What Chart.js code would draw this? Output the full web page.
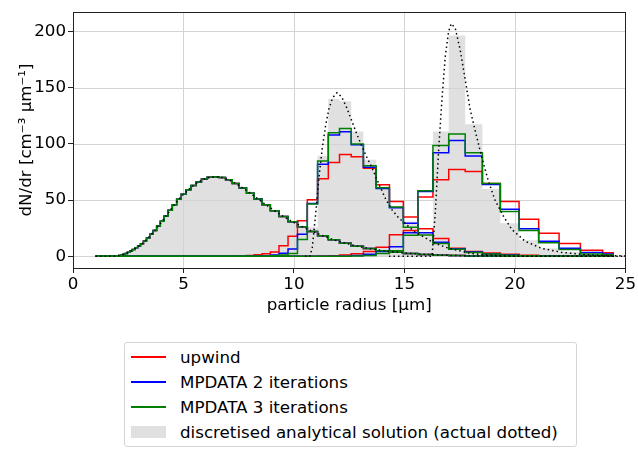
<!DOCTYPE html>
<html>
<head>
<meta charset="utf-8">
<script src="https://cdn.jsdelivr.net/npm/chart.js@4/dist/chart.umd.min.js"></script>
<style>
  body { margin: 0; background: #fff; }
  #wrap { position: relative; width: 638px; height: 451px; }
  #legend {
    position: absolute; left: 124px; top: 342px; width: 453px; height: 105px;
    border: 1px solid #d5d5d5; border-radius: 3px; box-sizing: border-box;
    font-family: "DejaVu Sans"; font-size: 16.7px; color: #000; background: #fff;
  }
  .item { position: absolute; left: 0; height: 20px; }
  .item span.txt { position: absolute; left: 55px; top: 0; white-space: nowrap; line-height: 20px; }
  .item span.ln { position: absolute; left: 6px; top: 9px; width: 35px; height: 2px; }
  .item span.patch { position: absolute; left: 6px; top: 4px; width: 35px; height: 12px; background: #e0e0e0; }
</style>
</head>
<body>
<div id="wrap">
  <canvas id="myChart" width="638" height="451"></canvas>
  <div id="legend">
    <div class="item" style="top:4px"><span class="ln" style="background:#ff0000"></span><span class="txt">upwind</span></div>
    <div class="item" style="top:29px"><span class="ln" style="background:#0000ff"></span><span class="txt">MPDATA 2 iterations</span></div>
    <div class="item" style="top:54px"><span class="ln" style="background:#008000"></span><span class="txt">MPDATA 3 iterations</span></div>
    <div class="item" style="top:79px"><span class="patch"></span><span class="txt">discretised analytical solution (actual dotted)</span></div>
  </div>
</div>
<script>
// bin centres of the radius grid [um]
var radius = [
  1.022, 1.067, 1.114, 1.162, 1.213, 1.267, 1.322, 1.380, 1.441, 1.504,
  1.570, 1.639, 1.711, 1.786, 1.864, 1.946, 2.031, 2.120, 2.213, 2.310,
  2.411, 2.517, 2.628, 2.743, 2.863, 2.989, 3.120, 3.257, 3.399, 3.548,
  3.704, 3.867, 4.036, 4.213, 4.398, 4.591, 4.792, 5.002, 5.222, 5.451,
  5.690, 5.939, 6.200, 6.472, 6.756, 7.052, 7.361, 7.684, 8.021, 8.373,
  8.740, 9.123, 9.523, 9.941, 10.377, 10.832, 11.307, 11.803, 12.321, 12.861,
  13.425, 14.014, 14.629, 15.271, 15.940, 16.639, 17.369, 18.131, 18.926, 19.756,
  20.623, 21.527, 22.471, 23.457, 24.486
];

// initial spectrum (same for every scheme and for the analytical one)
var initial = [
  0, 0, 0, 0, 0, 0, 0, 0, 0, 0,
  0, 0.05, 0.08, 0.12, 0.2, 0.3, 0.5, 0.8, 1.2, 1.8,
  2.6, 3.6, 4.8, 6.2, 7.7, 9.3, 11.2, 13.6, 16.4, 19.6,
  23.1, 27.0, 31.3, 36.0, 41.0, 46.0, 50.8, 55.2, 59.3, 63.0,
  66.2, 68.7, 70.3, 70.8, 70.1, 68.1, 64.9, 60.8, 56.2, 51.1,
  45.8, 40.5, 35.4, 30.7, 26.4, 22.2, 18.3, 14.8, 11.7, 9.1,
  6.9, 5.1, 3.7, 2.6, 1.7, 1.1, 0.7, 0.4, 0.25, 0.15,
  0.1, 0.05, 0, 0, 0
];

// second output time, bins from index 46 on (earlier bins empty)
var midStart = 46;
var upwindMid = [0.2, 0.4, 0.8, 1.4, 2.3, 3.8, 9.5, 17.9, 31.7, 50.4, 69.1, 83.5, 90.6, 88.6, 78.4, 63.6, 48.9, 35.1, 24.5, 15.9, 7.2, 4.3, 2.9, 1.8, 1.1, 0.6, 0.3, 0.2, 0.1];
var mpdata2Mid = [0, 0, 0.1, 0.3, 0.6, 1.2, 2.8, 6.5, 19.6, 47.0, 82.0, 107.9, 110.8, 99.3, 79.2, 60.4, 43.2, 29.4, 21.0, 12.5, 6.8, 3.8, 2.2, 1.2, 0.6, 0.3, 0.1, 0, 0];
var mpdata3Mid = [0, 0, 0, 0.1, 0.2, 0.5, 1.2, 2.5, 15.0, 46.6, 84.9, 110.0, 113.7, 99.9, 80.6, 61.0, 43.8, 25.9, 19.0, 11.5, 6.4, 3.5, 2.0, 1.0, 0.5, 0.2, 0.1, 0, 0];
var analyticMid = [0, 0, 0, 0, 0, 0, 0, 0, 0, 26, 89.5, 140, 138, 111, 86, 62, 45, 31, 21, 14, 9, 5, 3, 1.5, 1.0, 0.6, 0.3, 0.2, 0.1];

// third output time, bins from index 54 on
var lateStart = 54;
var upwindLate = [0.1, 0.2, 0.3, 0.6, 1.2, 2.3, 4.3, 8.1, 19.3, 23.0, 52.7, 68.2, 77.2, 75.4, 64.7, 48.9, 33.1, 20.5, 11.5, 5.5, 3.2];
var mpdata2Late = [0, 0, 0.05, 0.1, 0.2, 0.8, 1.8, 4.3, 8.6, 21.0, 57.6, 92.1, 103.0, 89.2, 64.0, 41.8, 24.5, 13.5, 7.2, 3.5, 2.0];
var mpdata3Late = [0, 0, 0, 0, 0.1, 0.3, 0.8, 2.5, 5.0, 18.7, 58.4, 98.7, 108.8, 92.1, 64.7, 40.0, 23.0, 12.0, 6.0, 2.0, 1.5];
var analyticLate = [0, 0, 0, 0, 0, 0, 0, 0, 0, 0, 1, 111, 196.5, 117.4, 59.9, 29.5, 14.4, 7.2, 4.0, 2.0, 1.0];

// actual analytical curves (dotted)
var exactMidR = [10.5, 10.72, 10.83, 10.98, 11.13, 11.28, 11.43, 11.58, 11.75, 11.95, 12.15, 12.35, 12.55, 12.8, 13.05, 13.3, 13.55, 13.85, 14.15, 14.45, 14.75, 15.05, 15.45, 15.9, 16.25, 16.6, 17.0, 17.5, 17.9, 18.5, 19.5, 20.5, 22.0, 25.0];
var exactMidN = [0, 0, 8, 37, 70, 96, 116, 131, 141, 145.5, 142, 134, 124, 111, 99, 88, 78, 64, 51, 41, 34, 29, 22, 17, 13, 10, 7.2, 5, 3, 1.5, 0.5, 0.2, 0.1, 0];
var exactLateR = [14.3, 16.25, 16.4, 16.55, 16.7, 16.85, 17.0, 17.12, 17.3, 17.53, 17.76, 17.98, 18.2, 18.5, 18.8, 19.1, 19.5, 19.86, 20.46, 21.2, 22.1, 23.2, 24.0, 25.0];
var exactLateN = [0, 0, 40, 95, 140, 178, 200, 207, 203, 183, 156, 130, 112, 88, 67, 50, 35, 24, 13.5, 7.2, 3.6, 1.5, 0.8, 0.4];

var xTicks = [0, 5, 10, 15, 20, 25];
var yTicks = [0, 50, 100, 150, 200];

var red = "#ff0000";
var blue = "#0000ff";
var green = "#008000";
var grey = "rgb(224,224,224)";

function binPoints(values, start) {
  var pts = [];
  for (var k = 0; k < radius.length; k++) {
    var j = k - start;
    pts.push({ x: radius[k], y: j >= 0 && j < values.length ? values[j] : 0 });
  }
  return pts;
}
function curvePoints(r, n) {
  return r.map(function (v, i) { return { x: v, y: n[i] }; });
}

function stepLine(values, start, color, order) {
  return {
    data: binPoints(values, start),
    borderColor: color,
    borderWidth: 1.5,
    stepped: "middle",
    pointRadius: 0,
    fill: false,
    order: order,
  };
}
function greyFill(values, start) {
  return {
    data: binPoints(values, start),
    borderWidth: 0,
    borderColor: grey,
    backgroundColor: grey,
    stepped: "middle",
    pointRadius: 0,
    fill: "origin",
    order: 10,
    isGrey: true,
  };
}
function dotted(points) {
  return {
    data: points,
    borderColor: "black",
    borderWidth: 1.5,
    borderDash: [1.5, 3],
    pointRadius: 0,
    fill: false,
    order: 0,
  };
}

var datasets = [
  dotted(curvePoints(radius, initial)),
  dotted(curvePoints(exactMidR, exactMidN)),
  dotted(curvePoints(exactLateR, exactLateN)),
  stepLine(initial, 0, green, 1),
  stepLine(mpdata3Mid, midStart, green, 1),
  stepLine(mpdata3Late, lateStart, green, 1),
  stepLine(initial, 0, blue, 2),
  stepLine(mpdata2Mid, midStart, blue, 2),
  stepLine(mpdata2Late, lateStart, blue, 2),
  stepLine(initial, 0, red, 3),
  stepLine(upwindMid, midStart, red, 3),
  stepLine(upwindLate, lateStart, red, 3),
  greyFill(initial, 0),
  greyFill(analyticMid, midStart),
  greyFill(analyticLate, lateStart),
];

// grid lines go above the grey bars but below the lines, like matplotlib
var greyDone = 0;
var gridAboveBars = {
  id: "gridAboveBars",
  beforeDatasetsDraw: function () { greyDone = 0; },
  afterDatasetDraw: function (chart, args) {
    if (!chart.data.datasets[args.index].isGrey) return;
    greyDone++;
    if (greyDone < 3) return;
    var ctx = chart.ctx, a = chart.chartArea;
    var xs = chart.scales.x, ys = chart.scales.y;
    ctx.save();
    ctx.strokeStyle = "#d3d3d3";
    ctx.lineWidth = 1;
    ctx.beginPath();
    xTicks.forEach(function (v) {
      var px = Math.round(xs.getPixelForValue(v)) + 0.5;
      ctx.moveTo(px, a.top); ctx.lineTo(px, a.bottom);
    });
    yTicks.forEach(function (v) {
      var py = Math.round(ys.getPixelForValue(v)) + 0.5;
      ctx.moveTo(a.left, py); ctx.lineTo(a.right, py);
    });
    ctx.stroke();
    ctx.restore();
  },
};
var frame = {
  id: "frame",
  afterDatasetsDraw: function (chart) {
    var ctx = chart.ctx, a = chart.chartArea;
    ctx.save();
    ctx.strokeStyle = "#222";
    ctx.lineWidth = 1;
    ctx.strokeRect(Math.round(a.left) + 0.5, Math.round(a.top) + 0.5, Math.round(a.right - a.left), Math.round(a.bottom - a.top));
    ctx.restore();
  },
};

Chart.defaults.font.family = "DejaVu Sans";
Chart.defaults.font.size = 16.7;
Chart.defaults.color = "#000";

new Chart("myChart", {
  type: "line",
  data: { datasets: datasets },
  plugins: [gridAboveBars, frame],
  options: {
    responsive: false,
    animation: false,
    layout: { padding: { top: 5, right: 11, bottom: 131, left: 0 } },
    plugins: {
      legend: { display: false },
      tooltip: { enabled: false },
    },
    scales: {
      x: {
        type: "linear",
        min: 0,
        max: 25,
        afterBuildTicks: function (scale) {
          scale.ticks = xTicks.map(function (v) { return { value: v }; });
        },
        afterFit: function (scale) { scale.height = 52; },
        grid: { drawOnChartArea: false, tickLength: 5, tickColor: "#222" },
        border: { display: false },
        ticks: { padding: 2, maxRotation: 0 },
        title: { display: true, text: "particle radius [μm]", padding: { top: 0, bottom: 4 } },
      },
      y: {
        type: "linear",
        min: -10.35,
        max: 217.3,
        afterBuildTicks: function (scale) {
          scale.ticks = yTicks.map(function (v) { return { value: v }; });
        },
        afterFit: function (scale) { scale.width = 73; },
        grid: { drawOnChartArea: false, tickLength: 5, tickColor: "#222" },
        border: { display: false },
        ticks: { padding: 2 },
        title: { display: true, text: "dN/dr [cm⁻³ μm⁻¹]", padding: { top: 17, bottom: 0 } },
      },
    },
  },
});
</script>
</body>
</html>
